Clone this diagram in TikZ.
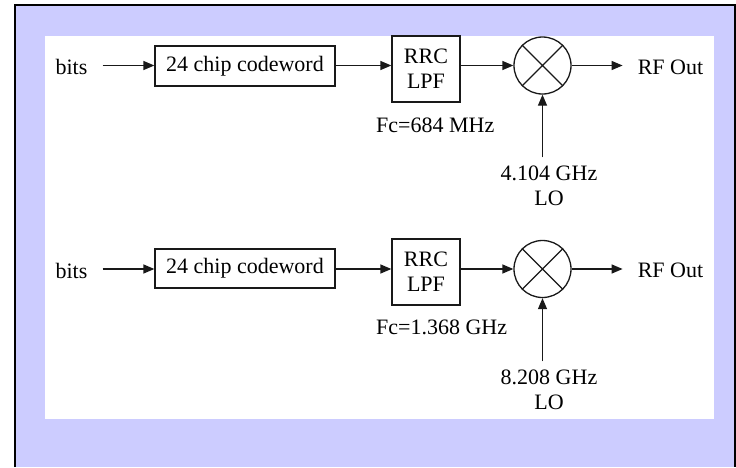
\documentclass[tikz,border=0pt]{standalone}
\usepackage{fontspec}
\setmainfont{Liberation Serif}
\usetikzlibrary{arrows.meta}
\definecolor{bgpurple}{RGB}{204,204,255}
\begin{document}
\begin{tikzpicture}[x=1pt,y=-1pt,
  every node/.style={font=\fontsize{22}{25}\selectfont, text=black},
  blk/.style={draw=black!90, line width=1.3pt, fill=white, inner sep=0pt, align=center},
  lbl/.style={inner sep=0pt, align=center},
  mixer/.style={draw=black!90, line width=1.3pt, circle, minimum size=57pt, inner sep=0pt},
  arr/.style={draw=black!90, line width=1.3pt, -{Triangle[length=11pt,width=9pt]}}
]
\useasboundingbox (0,0) rectangle (736,467);
\fill[bgpurple] (15,5) rectangle (735,467);
\draw[black, line width=2.5pt] (15,467) -- (15,5) -- (735,5) -- (735,467);
\fill[white] (45,36) rectangle (714,419);

% upper chain
\node[lbl, inner xsep=15pt] (bits1) at (71.5,67) {bits};
\node[blk, minimum width=180pt, minimum height=40pt] (code1) at (245,66) {24 chip codeword};
\node[blk, minimum width=68pt, minimum height=66pt] (rrc1) at (426,69) {RRC\\LPF};
\node[mixer] (mix1) at (542.5,65.5) {};
\draw[black!90, line width=1.3pt] (mix1.45) -- (mix1.225) (mix1.135) -- (mix1.315);
\node[lbl, inner xsep=15pt] (rf1) at (670.5,67) {RF Out};
\node[lbl, anchor=west] (fc1) at (376,125) {Fc=684 MHz};
\node[lbl, inner ysep=8pt] (lo1) at (549,185.5) {4.104 GHz\\LO};
\draw[arr] (bits1.east |- mix1.west) -- (code1.west |- mix1.west);
\draw[arr] (code1.east |- mix1.west) -- (rrc1.west |- mix1.west);
\draw[arr] (rrc1.east |- mix1.west) -- (mix1.west);
\draw[arr] (mix1.east) -- (rf1.west |- mix1.east);
\draw[arr] (mix1.south |- lo1.north) -- (mix1.south);

% lower chain
\node[lbl, inner xsep=15pt] (bits2) at (71.5,270.5) {bits};
\node[blk, minimum width=180pt, minimum height=39pt] (code2) at (245,268.5) {24 chip codeword};
\node[blk, minimum width=68pt, minimum height=66pt] (rrc2) at (426,272) {RRC\\LPF};
\node[mixer] (mix2) at (542.5,269) {};
\draw[black!90, line width=1.3pt] (mix2.45) -- (mix2.225) (mix2.135) -- (mix2.315);
\node[lbl, inner xsep=15pt] (rf2) at (670.5,270.5) {RF Out};
\node[lbl, anchor=west] (fc2) at (376,327) {Fc=1.368 GHz};
\node[lbl, inner ysep=8pt] (lo2) at (549,389.5) {8.208 GHz\\LO};
\draw[arr] (bits2.east |- mix2.west) -- (code2.west |- mix2.west);
\draw[arr] (code2.east |- mix2.west) -- (rrc2.west |- mix2.west);
\draw[arr] (rrc2.east |- mix2.west) -- (mix2.west);
\draw[arr] (mix2.east) -- (rf2.west |- mix2.east);
\draw[arr] (mix2.south |- lo2.north) -- (mix2.south);
\end{tikzpicture}
\end{document}
